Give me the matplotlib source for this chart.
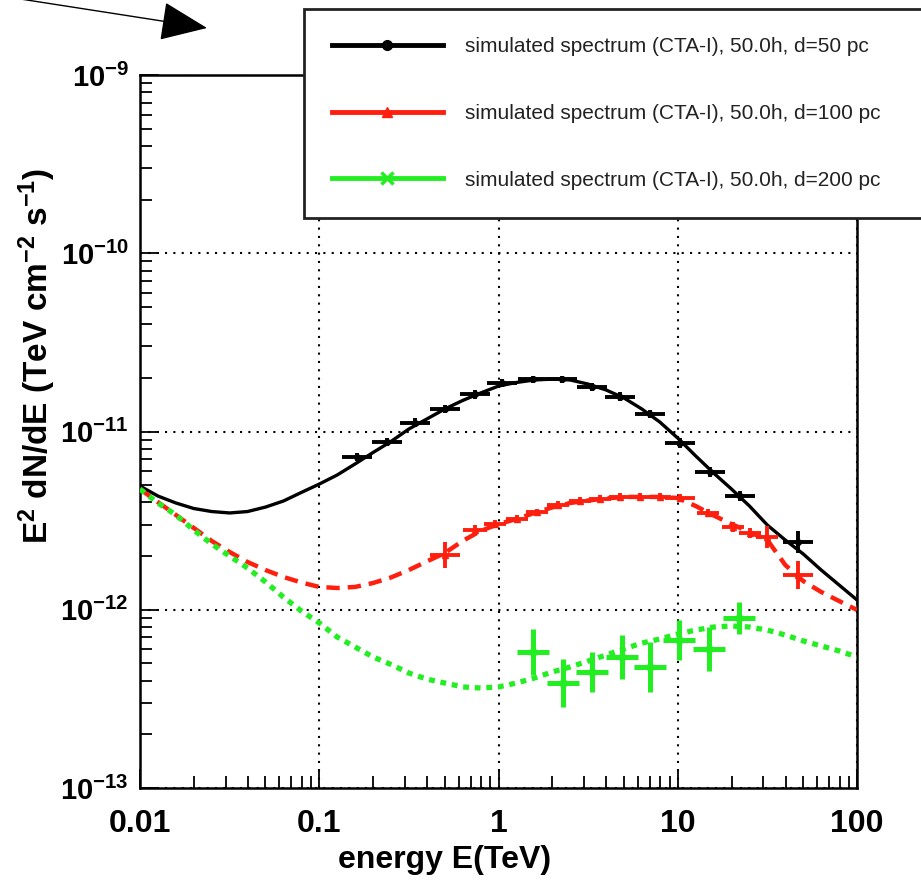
import numpy as np
import matplotlib
matplotlib.use("Agg")
import matplotlib.pyplot as plt
from matplotlib.lines import Line2D
from matplotlib.ticker import LogLocator, NullFormatter

plt.rcParams['font.family'] = ['Liberation Sans', 'DejaVu Sans']
plt.rcParams['mathtext.fontset'] = 'custom'
plt.rcParams['mathtext.rm'] = 'Liberation Sans:bold'
plt.rcParams['mathtext.it'] = 'Liberation Sans:italic:bold'
plt.rcParams['mathtext.bf'] = 'Liberation Sans:bold'
plt.rcParams['mathtext.default'] = 'rm'

# ---------------- data ----------------
# model curves: log10(E/TeV) and log10(E^2 dN/dE)
curve_logE = [-2.0, -1.9, -1.8, -1.7, -1.6, -1.5, -1.4, -1.3, -1.2, -1.1, -1.0,
              -0.9, -0.8, -0.7, -0.6, -0.5, -0.4, -0.3, -0.2, -0.1, 0.0,
              0.1, 0.2, 0.3, 0.4, 0.5, 0.6, 0.7, 0.8, 0.9, 1.0,
              1.1, 1.2, 1.3, 1.4, 1.5, 1.6, 1.7, 1.8, 1.9, 2.0]
black_curve_logF = [-11.306, -11.362, -11.401, -11.432, -11.449, -11.457, -11.449, -11.424,
                    -11.390, -11.342, -11.295, -11.244, -11.182, -11.118, -11.056, -10.986,
                    -10.930, -10.874, -10.826, -10.784, -10.745, -10.725, -10.711, -10.706,
                    -10.711, -10.734, -10.767, -10.812, -10.874, -10.947, -11.037, -11.137,
                    -11.233, -11.323, -11.418, -11.525, -11.609, -11.687, -11.777, -11.861,
                    -11.945]
red_curve_logF = [-11.323, -11.396, -11.468, -11.541, -11.614, -11.676, -11.732, -11.777,
                  -11.816, -11.847, -11.872, -11.878, -11.872, -11.850, -11.819, -11.777,
                  -11.729, -11.682, -11.614, -11.558, -11.519, -11.491, -11.457, -11.426,
                  -11.401, -11.387, -11.376, -11.367, -11.367, -11.367, -11.373, -11.418,
                  -11.471, -11.519, -11.564, -11.609, -11.749, -11.839, -11.900, -11.951,
                  -12.001]
green_curve_logF = [-11.323, -11.401, -11.468, -11.553, -11.631, -11.699, -11.766, -11.844,
                    -11.929, -12.007, -12.074, -12.153, -12.209, -12.265, -12.307, -12.355,
                    -12.389, -12.411, -12.433, -12.439, -12.433, -12.411, -12.383, -12.349,
                    -12.321, -12.288, -12.254, -12.220, -12.187, -12.164, -12.136, -12.114,
                    -12.097, -12.091, -12.097, -12.114, -12.142, -12.175, -12.203, -12.231,
                    -12.265]

# simulated spectral points (log10 values, half-widths in decades)
black_logE = [-0.789, -0.622, -0.466, -0.298, -0.131, 0.020, 0.192, 0.354, 0.522, 0.678,
              0.845, 1.013, 1.180, 1.347, 1.671]
black_logF = [-11.143, -11.059, -10.952, -10.874, -10.790, -10.728, -10.706, -10.706,
              -10.750, -10.806, -10.902, -11.065, -11.227, -11.362, -11.620]
black_dlogE = [0.085] * 15
black_dlogF = [0.025, 0.025, 0.025, 0.025, 0.025, 0.02, 0.02, 0.02, 0.02, 0.025,
               0.025, 0.03, 0.03, 0.03, 0.06]

red_logE = [-0.298, -0.131, -0.020, 0.103, 0.215, 0.332, 0.455, 0.566, 0.678, 0.789,
            0.901, 1.013, 1.169, 1.308, 1.403, 1.498, 1.671]
red_logF = [-11.693, -11.553, -11.519, -11.491, -11.452, -11.412, -11.390, -11.379,
            -11.367, -11.367, -11.367, -11.373, -11.457, -11.536, -11.569, -11.592, -11.805]
red_dlogE = [0.085, 0.065, 0.06, 0.06, 0.06, 0.06, 0.06, 0.06, 0.06, 0.06, 0.06, 0.085,
             0.06, 0.06, 0.06, 0.06, 0.085]
red_dlogF = [0.075, 0.03, 0.02, 0.02, 0.02, 0.02, 0.02, 0.02, 0.02, 0.02, 0.02, 0.02,
             0.025, 0.03, 0.03, 0.06, 0.08]

green_logE = [0.192, 0.360, 0.522, 0.689, 0.845, 1.007, 1.174, 1.342]
green_logF = [-12.237, -12.411, -12.349, -12.265, -12.321, -12.170, -12.220, -12.046]
green_dlogE = [0.09] * 8
green_dlogF = [0.13, 0.135, 0.11, 0.125, 0.14, 0.11, 0.125, 0.09]

legend_labels = ["simulated spectrum (CTA-I), 50.0h, d=50 pc",
                 "simulated spectrum (CTA-I), 50.0h, d=100 pc",
                 "simulated spectrum (CTA-I), 50.0h, d=200 pc"]
xtick_vals = [0.01, 0.1, 1, 10, 100]
xtick_labels = ["0.01", "0.1", "1", "10", "100"]
ytick_vals = [1e-13, 1e-12, 1e-11, 1e-10, 1e-9]
ytick_labels = [r"$10^{-13}$", r"$10^{-12}$", r"$10^{-11}$", r"$10^{-10}$", r"$10^{-9}$"]

# ---------------- styles ----------------
BLACK = "#000000"
RED = "#ff1f0f"
GREEN = "#22ee22"

W, H = 921, 882
fig = plt.figure(figsize=(W / 100, H / 100), dpi=100)
ax = fig.add_axes([140 / W, 1 - 788 / H, 717 / W, 713 / H])
ax.set_xscale("log")
ax.set_yscale("log")
ax.set_xlim(0.01, 100)
ax.set_ylim(1e-13, 1e-9)

cE = 10 ** np.array(curve_logE)
ax.plot(cE, 10 ** np.array(black_curve_logF), color=BLACK, lw=2.4, zorder=3)
ax.plot(cE, 10 ** np.array(red_curve_logF), color=RED, lw=3.2,
        linestyle=(0, (3.0, 1.8)), zorder=3)
ax.plot(cE, 10 ** np.array(green_curve_logF), color=GREEN, lw=3.8,
        linestyle=(0, (1.1, 1.1)), zorder=3)


def draw_points(logE, logF, dlogE, dlogF, color, marker, lw):
    lE = np.array(logE); lF = np.array(logF)
    dE = np.array(dlogE); dF = np.array(dlogF)
    E = 10 ** lE; F = 10 ** lF
    xerr = [E - 10 ** (lE - dE), 10 ** (lE + dE) - E]
    yerr = [F - 10 ** (lF - dF), 10 ** (lF + dF) - F]
    ax.errorbar(E, F, xerr=xerr, yerr=yerr, fmt=marker, color=color, ms=4,
                elinewidth=lw, capsize=0, zorder=4)


draw_points(black_logE, black_logF, black_dlogE, black_dlogF, BLACK, "o", 2.8)
draw_points(red_logE, red_logF, red_dlogE, red_dlogF, RED, "^", 2.8)
draw_points(green_logE, green_logF, green_dlogE, green_dlogF, GREEN, "x", 3.6)

# axes styling
for s in ax.spines.values():
    s.set_linewidth(1.8)
ax.set_xticks(xtick_vals)
ax.set_xticklabels(xtick_labels, fontweight="bold")
ax.set_yticks(ytick_vals)
ax.set_yticklabels(ytick_labels)
ax.xaxis.set_minor_locator(LogLocator(base=10, subs=np.arange(2, 10), numticks=20))
ax.yaxis.set_minor_locator(LogLocator(base=10, subs=np.arange(2, 10), numticks=20))
ax.xaxis.set_minor_formatter(NullFormatter())
ax.yaxis.set_minor_formatter(NullFormatter())
ax.tick_params(which="both", direction="in", top=False, right=False, width=1.3)
ax.tick_params(which="major", length=14)
ax.tick_params(which="minor", length=8.5)
ax.tick_params(axis="x", which="major", labelsize=23, pad=15)
ax.tick_params(axis="y", which="major", labelsize=21, pad=8)
ax.grid(True, which="major", color="black", lw=1.5, linestyle=(0, (1, 3)))

ax.set_xlabel("energy E(TeV)", fontsize=23, fontweight="bold", va="center", ha="center")
ax.xaxis.set_label_coords((445 - 140) / 717, (788 - 860) / 713)
ax.set_ylabel(r"E$^{2}$ dN/dE (TeV cm$^{-2}$ s$^{-1}$)", fontsize=24,
              fontweight="bold", va="center", ha="center")
ax.yaxis.set_label_coords((37 - 140) / 717, (788 - 356) / 713)

# legend (ROOT style box above the frame)
handles = [Line2D([], [], color=BLACK, lw=3.5, marker="o", ms=7),
           Line2D([], [], color=RED, lw=3.5, marker="^", ms=7),
           Line2D([], [], color=GREEN, lw=3.5, marker="x", ms=8, mew=2.5)]
leg = fig.legend(handles, legend_labels, loc="upper left",
                 bbox_to_anchor=(304 / W, 1 - 9 / H, 640 / W, 0.0),
                 mode="expand", borderaxespad=0, numpoints=1,
                 fontsize=15, handlelength=5.3, handletextpad=1.06,
                 labelspacing=2.29, borderpad=1.35, fancybox=False,
                 framealpha=1, edgecolor="#222222")
leg.get_frame().set_linewidth(2.0)
for t in leg.get_texts():
    t.set_color("#222222")

# arrow at the top left
ax.annotate("", xy=(207, H - 28), xytext=(14, H + 2),
            xycoords="figure pixels", textcoords="figure pixels",
            arrowprops=dict(arrowstyle="-|>,head_length=3.0,head_width=1.25",
                            mutation_scale=10, lw=1.0, color="black",
                            shrinkA=0, shrinkB=0),
            annotation_clip=False)

fig.savefig("out.png", dpi=100)
